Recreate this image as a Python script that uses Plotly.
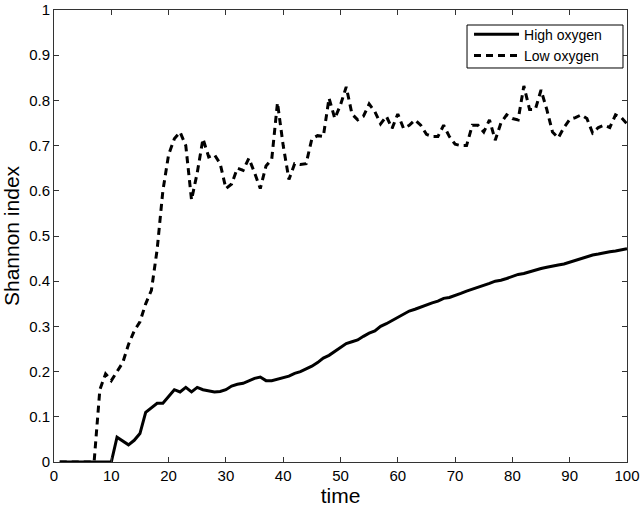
import plotly.graph_objects as go

time = list(range(1, 101))

high_oxygen = [
    0, 0, 0, 0, 0, 0, 0, 0, 0, 0,
    0.055, 0.046, 0.038, 0.048, 0.063, 0.110, 0.120, 0.130, 0.130, 0.145,
    0.160, 0.155, 0.165, 0.155, 0.165, 0.160, 0.158, 0.155, 0.156, 0.160,
    0.168, 0.172, 0.174, 0.180, 0.185, 0.188, 0.180, 0.180, 0.183, 0.187,
    0.190, 0.196, 0.200, 0.206, 0.212, 0.220, 0.230, 0.236, 0.245, 0.255,
    0.262, 0.266, 0.270, 0.278, 0.285, 0.290, 0.300, 0.306, 0.313, 0.320,
    0.328, 0.334, 0.338, 0.343, 0.347, 0.352, 0.356, 0.362, 0.364, 0.368,
    0.373, 0.378, 0.382, 0.386, 0.390, 0.395, 0.400, 0.402, 0.406, 0.410,
    0.415, 0.417, 0.421, 0.425, 0.428, 0.431, 0.434, 0.436, 0.438, 0.442,
    0.446, 0.450, 0.454, 0.458, 0.460, 0.463, 0.465, 0.467, 0.470, 0.472,
]

low_oxygen = [
    0, 0, 0, 0, 0, 0, 0, 0.160, 0.195, 0.180,
    0.200, 0.220, 0.260, 0.290, 0.310, 0.350, 0.380, 0.470, 0.600, 0.680,
    0.715, 0.730, 0.700, 0.580, 0.640, 0.715, 0.675, 0.680, 0.660, 0.605,
    0.615, 0.650, 0.645, 0.672, 0.640, 0.605, 0.655, 0.670, 0.795, 0.700,
    0.625, 0.660, 0.658, 0.660, 0.715, 0.722, 0.720, 0.805, 0.760, 0.790,
    0.830, 0.770, 0.757, 0.765, 0.792, 0.775, 0.748, 0.765, 0.738, 0.770,
    0.738, 0.745, 0.757, 0.745, 0.725, 0.720, 0.720, 0.745, 0.720, 0.703,
    0.700, 0.700, 0.745, 0.745, 0.730, 0.757, 0.712, 0.750, 0.768, 0.760,
    0.757, 0.832, 0.780, 0.780, 0.823, 0.780, 0.730, 0.717, 0.740, 0.758,
    0.762, 0.768, 0.760, 0.728, 0.740, 0.745, 0.740, 0.768, 0.762, 0.748,
]

x_ticks = list(range(0, 101, 10))
y_ticks = [i / 10 for i in range(0, 11)]
y_tick_labels = ["0", "0.1", "0.2", "0.3", "0.4", "0.5", "0.6", "0.7", "0.8", "0.9", "1"]

font_family = "Liberation Sans, Arial, Helvetica, sans-serif"

fig = go.Figure()
fig.add_trace(go.Scatter(
    x=time, y=high_oxygen, mode="lines", name="High oxygen",
    line=dict(color="black", width=3),
))
fig.add_trace(go.Scatter(
    x=time, y=low_oxygen, mode="lines", name="Low oxygen",
    line=dict(color="black", width=3, dash="7px,5px"),
))

axis_common = dict(
    showline=True, linecolor="#333", linewidth=1, mirror="ticks",
    ticks="inside", ticklen=5, tickcolor="#333", tickwidth=1,
    showgrid=False, zeroline=False, automargin=False,
    ticklabeloverflow="allow",
    tickfont=dict(family=font_family, size=15, color="black"),
)

# legend frame (drawn as a paper-referenced rectangle so it can be wider than the entries)
fig.add_shape(
    type="rect", xref="paper", yref="paper",
    x0=0.7208, x1=0.9930, y0=0.8717, y1=0.9668,
    line=dict(color="black", width=1), fillcolor="white", layer="above",
)

fig.update_layout(
    width=644, height=507,
    paper_bgcolor="white", plot_bgcolor="white",
    margin=dict(l=54, r=17, t=10, b=45),
    font=dict(family=font_family, color="black"),
    showlegend=True,
    legend=dict(
        x=0.7243, y=0.981, xanchor="left", yanchor="top",
        bgcolor="rgba(0,0,0,0)", borderwidth=0,
        font=dict(family=font_family, size=14, color="black"),
        tracegroupgap=0, itemwidth=45,
    ),
    xaxis=dict(
        range=[0, 100], tickvals=x_ticks,
        title=dict(text="time", font=dict(family=font_family, size=21), standoff=0),
        **axis_common,
    ),
    yaxis=dict(
        range=[0, 1], tickvals=y_ticks, ticktext=y_tick_labels,
        title=dict(text="Shannon index", font=dict(family=font_family, size=21), standoff=3),
        **axis_common,
    ),
)

# remove the default 8px page margin so the figure fills the window exactly
fig.write_html(
    "out.html",
    config={"displayModeBar": False},
    post_script="document.body.style.margin='0';",
)
